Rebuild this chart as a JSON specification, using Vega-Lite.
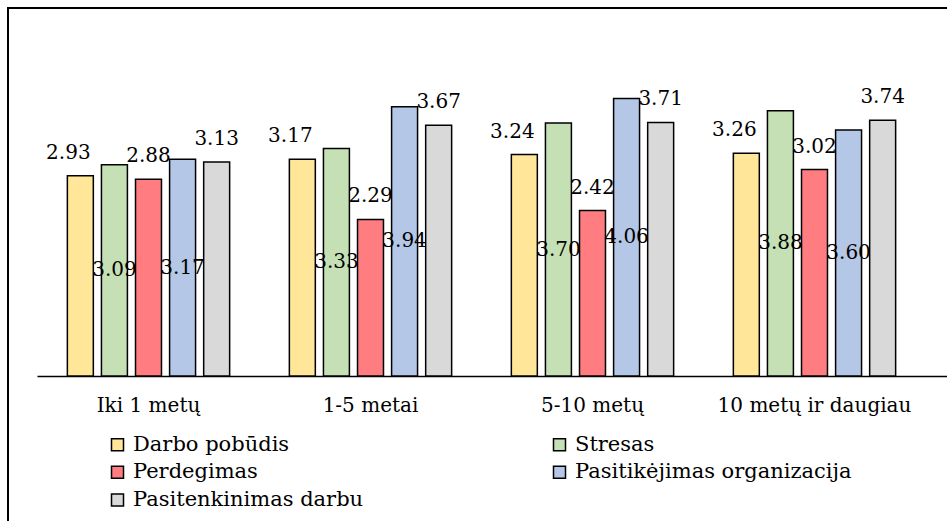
{
  "$schema": "https://vega.github.io/schema/vega-lite/v6.json",
  "width": 947,
  "height": 532,
  "autosize": {"type": "none"},
  "padding": {"left": 8, "top": 8, "right": 0, "bottom": 0},
  "background": "white",
  "config": {
    "view": {"stroke": "black", "strokeWidth": 2},
    "font": "DejaVu Serif"
  },
  "data": {
    "values": [
      {"grupe": "Iki 1 metų", "rodiklis": "Darbo pobūdis", "reiksme": 2.93},
      {"grupe": "Iki 1 metų", "rodiklis": "Stresas", "reiksme": 3.09},
      {"grupe": "Iki 1 metų", "rodiklis": "Perdegimas", "reiksme": 2.88},
      {"grupe": "Iki 1 metų", "rodiklis": "Pasitikėjimas organizacija", "reiksme": 3.17},
      {"grupe": "Iki 1 metų", "rodiklis": "Pasitenkinimas darbu", "reiksme": 3.13},
      {"grupe": "1-5 metai", "rodiklis": "Darbo pobūdis", "reiksme": 3.17},
      {"grupe": "1-5 metai", "rodiklis": "Stresas", "reiksme": 3.33},
      {"grupe": "1-5 metai", "rodiklis": "Perdegimas", "reiksme": 2.29},
      {"grupe": "1-5 metai", "rodiklis": "Pasitikėjimas organizacija", "reiksme": 3.94},
      {"grupe": "1-5 metai", "rodiklis": "Pasitenkinimas darbu", "reiksme": 3.67},
      {"grupe": "5-10 metų", "rodiklis": "Darbo pobūdis", "reiksme": 3.24},
      {"grupe": "5-10 metų", "rodiklis": "Stresas", "reiksme": 3.70},
      {"grupe": "5-10 metų", "rodiklis": "Perdegimas", "reiksme": 2.42},
      {"grupe": "5-10 metų", "rodiklis": "Pasitikėjimas organizacija", "reiksme": 4.06},
      {"grupe": "5-10 metų", "rodiklis": "Pasitenkinimas darbu", "reiksme": 3.71},
      {"grupe": "10 metų ir daugiau", "rodiklis": "Darbo pobūdis", "reiksme": 3.26},
      {"grupe": "10 metų ir daugiau", "rodiklis": "Stresas", "reiksme": 3.88},
      {"grupe": "10 metų ir daugiau", "rodiklis": "Perdegimas", "reiksme": 3.02},
      {"grupe": "10 metų ir daugiau", "rodiklis": "Pasitikėjimas organizacija", "reiksme": 3.60},
      {"grupe": "10 metų ir daugiau", "rodiklis": "Pasitenkinimas darbu", "reiksme": 3.74}
    ]
  },
  "encoding": {
    "x": {
      "field": "grupe",
      "type": "nominal",
      "scale": {
        "domain": ["Iki 1 metų", "1-5 metai", "5-10 metų", "10 metų ir daugiau"],
        "paddingInner": 0.269,
        "paddingOuter": 0.2674
      },
      "axis": {
        "orient": "bottom",
        "offset": -164,
        "position": 29,
        "labelOffset": -29,
        "title": null,
        "grid": false,
        "ticks": false,
        "tickSize": 0,
        "domain": true,
        "domainColor": "black",
        "domainWidth": 1.5,
        "labelAngle": 0,
        "labelPadding": 19,
        "labelFont": "DejaVu Serif",
        "labelFontSize": 20,
        "labelColor": "black",
        "labelLimit": 500,
        "labelOverlap": false
      }
    },
    "xOffset": {
      "field": "rodiklis",
      "type": "nominal",
      "scale": {
        "domain": ["Darbo pobūdis", "Stresas", "Perdegimas", "Pasitikėjimas organizacija", "Pasitenkinimas darbu"],
        "paddingInner": 0.238,
        "paddingOuter": 0
      }
    }
  },
  "layer": [
    {
      "mark": {"type": "bar", "stroke": "black", "strokeWidth": 1.5},
      "encoding": {
        "y": {
          "field": "reiksme",
          "type": "quantitative",
          "scale": {"domain": [-2.4, 5.384], "nice": false, "zero": false},
          "axis": null
        },
        "y2": {"datum": 0},
        "color": {
          "field": "rodiklis",
          "type": "nominal",
          "scale": {
            "domain": ["Darbo pobūdis", "Stresas", "Perdegimas", "Pasitikėjimas organizacija", "Pasitenkinimas darbu"],
            "range": ["#FFE699", "#C5E0B4", "#FF7C80", "#B4C7E7", "#D9D9D9"]
          },
          "legend": {
            "orient": "none",
            "legendX": 99,
            "legendY": 426,
            "direction": "horizontal",
            "columns": 2,
            "title": null,
            "padding": 0,
            "symbolType": "square",
            "symbolSize": 144,
            "symbolStrokeColor": "black",
            "symbolStrokeWidth": 1.5,
            "symbolOpacity": 1,
            "labelFont": "DejaVu Serif",
            "labelFontSize": 21,
            "labelColor": "black",
            "labelLimit": 500,
            "labelOffset": 5,
            "rowPadding": 5.7,
            "columnPadding": 185
          }
        }
      }
    },
    {
      "transform": [{"filter": "datum.rodiklis === 'Darbo pobūdis'"}],
      "mark": {"type": "text", "baseline": "alphabetic", "align": "center", "dy": -17, "dx": -12, "fontSize": 20, "color": "black", "font": "DejaVu Serif"},
      "encoding": {
        "y": {
          "field": "reiksme",
          "type": "quantitative",
          "scale": {"domain": [-2.4, 5.384], "nice": false, "zero": false},
          "axis": null
        },
        "text": {"field": "reiksme", "type": "quantitative", "format": ".2f"}
      }
    },
    {
      "transform": [{"filter": "datum.rodiklis === 'Perdegimas' || datum.rodiklis === 'Pasitenkinimas darbu'"}],
      "mark": {"type": "text", "baseline": "alphabetic", "align": "center", "dy": -17, "fontSize": 20, "color": "black", "font": "DejaVu Serif"},
      "encoding": {
        "y": {
          "field": "reiksme",
          "type": "quantitative",
          "scale": {"domain": [-2.4, 5.384], "nice": false, "zero": false},
          "axis": null
        },
        "text": {"field": "reiksme", "type": "quantitative", "format": ".2f"}
      }
    },
    {
      "transform": [{"filter": "datum.rodiklis === 'Stresas' || datum.rodiklis === 'Pasitikėjimas organizacija'"}],
      "mark": {"type": "text", "baseline": "middle", "align": "center", "fontSize": 20, "color": "black", "font": "DejaVu Serif"},
      "encoding": {
        "y": {
          "field": "reiksme",
          "type": "quantitative",
          "scale": {"domain": [-4.8, 10.768], "nice": false, "zero": false},
          "axis": null
        },
        "text": {"field": "reiksme", "type": "quantitative", "format": ".2f"}
      }
    }
  ],
  "resolve": {"scale": {"y": "independent"}}
}
